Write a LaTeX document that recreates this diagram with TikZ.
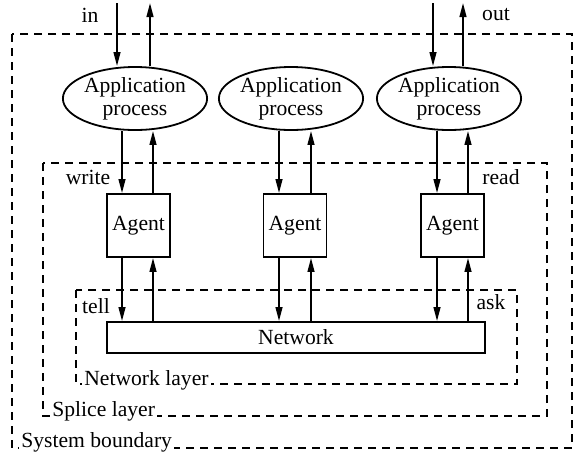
\documentclass[tikz,border=0pt]{standalone}
\usepackage{fontspec}
\setmainfont{Liberation Serif}
\usetikzlibrary{arrows.meta, shapes.geometric}

\begin{document}
\begin{tikzpicture}[x=0.5pt,y=-0.5pt,>={Triangle[length=7pt,width=3.4pt]},
  every node/.style={font=\fontsize{10.8}{11.5}\selectfont},
  proc/.style={draw,ellipse,line width=0.9pt,minimum width=71.5pt,
    minimum height=31.5pt,inner sep=0pt,align=center},
  agentbox/.style={draw,rectangle,line width=0.9pt,minimum size=31.5pt,inner sep=0pt},
  flow/.style={->,line width=0.9pt},
  layer/.style={dash pattern=on 4pt off 3pt,line width=0.6pt},
  layerlabel/.style={fill=white,inner sep=1pt,anchor=base west}]
  \useasboundingbox (0,0) rectangle (577,456);
  \draw[layer] (12,34) rectangle (572,448);
  \draw[layer] (43,163) rectangle (547,416);
  \draw[layer] (76,290) rectangle (517,384);
  \node[layerlabel] (syslabel) at (19,447) {System boundary};
  \node[layerlabel] (splicelabel) at (50,416) {Splice layer};
  \node[layerlabel] (netlabel) at (82,385) {Network layer};
  \node[proc] (app1) at (135,98.5) {Application\\process};
  \node[proc] (app2) at (291,98.5) {Application\\process};
  \node[proc] (app3) at (449,98.5) {Application\\process};
  \node[agentbox] (agent1) at (138.5,225.5) {Agent};
  \node[agentbox] (agent2) at (295,225.5) {Agent};
  \node[agentbox] (agent3) at (452.5,225.5) {Agent};
  \node[draw,rectangle,line width=0.9pt,minimum width=189pt,minimum height=15.5pt,
        inner sep=0pt] (net) at (296,337.5) {Network};
  \coordinate (in1) at (117,3);
  \coordinate (out1) at (150,3);
  \coordinate (in3) at (433,3);
  \coordinate (out3) at (463,3);
  \coordinate (down1) at (122,0);
  \coordinate (up1) at (153,0);
  \coordinate (down2) at (279,0);
  \coordinate (up2) at (311,0);
  \coordinate (down3) at (437,0);
  \coordinate (up3) at (468,0);
  \draw[flow] (in1) -- (in1 |- app1.north);
  \draw[flow] (out1 |- app1.north) -- (out1);
  \draw[flow] (in3) -- (in3 |- app3.north);
  \draw[flow] (out3 |- app3.north) -- (out3);
  \draw[flow] (down1 |- app1.south) -- (down1 |- agent1.north);
  \draw[flow] (up1 |- agent1.north) -- (up1 |- app1.south);
  \draw[flow] (down2 |- app2.south) -- (down2 |- agent2.north);
  \draw[flow] (up2 |- agent2.north) -- (up2 |- app2.south);
  \draw[flow] (down3 |- app3.south) -- (down3 |- agent3.north);
  \draw[flow] (up3 |- agent3.north) -- (up3 |- app3.south);
  \draw[flow] (down1 |- agent1.south) -- (down1 |- net.north);
  \draw[flow] (up1 |- net.north) -- (up1 |- agent1.south);
  \draw[flow] (down2 |- agent2.south) -- (down2 |- net.north);
  \draw[flow] (up2 |- net.north) -- (up2 |- agent2.south);
  \draw[flow] (down3 |- agent3.south) -- (down3 |- net.north);
  \draw[flow] (up3 |- net.north) -- (up3 |- agent3.south);
  \node (inlabel) at (90,15) {in};
  \node (outlabel) at (496,15) {out};
  \node (writelabel) at (88,177) {write};
  \node (readlabel) at (501,177) {read};
  \node (telllabel) at (96,306) {tell};
  \node (asklabel) at (491,302) {ask};
\end{tikzpicture}
\end{document}
